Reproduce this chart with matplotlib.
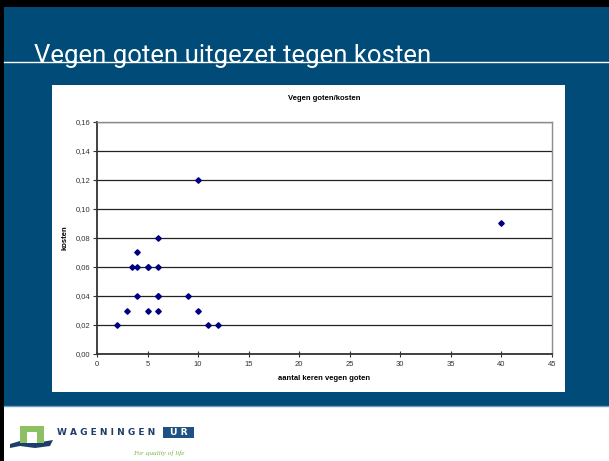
import matplotlib
matplotlib.use("Agg")
import matplotlib.pyplot as plt
from matplotlib.patches import Rectangle, Polygon

# data
keren = [2, 3, 3.5, 4, 4, 4, 5, 5, 5, 6, 6, 6, 6, 6, 9, 10, 10, 11, 12, 40]
kosten = [0.02, 0.03, 0.06, 0.06, 0.07, 0.04, 0.06, 0.06, 0.03, 0.08,
          0.06, 0.04, 0.04, 0.03, 0.04, 0.12, 0.03, 0.02, 0.02, 0.09]
x_ticks = [0, 5, 10, 15, 20, 25, 30, 35, 40, 45]
y_ticks = [0.00, 0.02, 0.04, 0.06, 0.08, 0.10, 0.12, 0.14, 0.16]

W, H = 609, 461
BLUE = "#004b78"

def box(x0, y0, x1, y1):
    # pixel box (top-left origin) -> figure fraction
    return [x0 / W, 1 - y1 / H, (x1 - x0) / W, (y1 - y0) / H]

fig = plt.figure(figsize=(W / 100, H / 100), dpi=100, facecolor="white")

# slide background drawn in pixel coordinates
bg = fig.add_axes([0, 0, 1, 1], zorder=0)
bg.set_xlim(0, W)
bg.set_ylim(H, 0)
bg.axis("off")
bg.add_patch(Rectangle((4, 7), W - 4, 399, color=BLUE, lw=0))
bg.plot([4, W], [405.5, 405.5], color="#6f9cc0", lw=1)
bg.add_patch(Rectangle((0, 0), W, 7, color="black", lw=0))
bg.add_patch(Rectangle((0, 0), 4, H, color="black", lw=0))
bg.plot([4, W], [62.5, 62.5], color="white", lw=1)
bg.text(34, 62.5, "Vegen goten uitgezet tegen kosten", color="white",
        fontsize=18.5, family=["Roboto", "Liberation Sans"],
        va="baseline", ha="left")
bg.add_patch(Rectangle((52, 85), 513, 307, color="white", lw=0))

# logo
bg.add_patch(Polygon([(10, 444), (20, 441), (35, 443), (53, 440), (50, 446),
                      (35, 448), (20, 446), (10, 448)], color="#1d3d6b", lw=0))
bg.add_patch(Rectangle((20, 426), 24, 17, color="#8cc063", lw=0))
bg.add_patch(Rectangle((27, 432), 10, 11, color="white", lw=0))
bg.text(57, 432, "W A G E N I N G E N", color="#1d3d6b", fontsize=6.5,
        fontweight="bold", va="center", ha="left", family="DejaVu Sans")
bg.add_patch(Rectangle((163, 426.5), 31, 11, color="#1f5284", lw=0))
bg.text(178.5, 432, "U R", color="white", fontsize=6.6, fontweight="bold",
        va="center", ha="center", family="DejaVu Sans")
bg.text(185, 453, "For quality of life", color="#7ab648", fontsize=5.2,
        style="italic", va="center", ha="right", family="Liberation Serif")

# chart
ax = fig.add_axes(box(97, 122, 552, 354), zorder=1)
ax.set_facecolor("white")
ax.plot(keren, kosten, linestyle="none", marker="D", ms=2.8,
        color="#000080", zorder=3)
ax.set_xlim(0, 45)
ax.set_ylim(0, 0.16)
ax.set_xticks(x_ticks)
ax.set_yticks(y_ticks)
ax.set_xticklabels([str(t) for t in x_ticks])
ax.set_yticklabels([("%.2f" % t).replace(".", ",") for t in y_ticks])
ax.tick_params(axis="x", direction="inout", length=4, width=0.8,
               labelsize=5.5, pad=3, colors="#333333")
ax.tick_params(axis="y", direction="out", length=3, width=0.8,
               labelsize=5.5, pad=2, colors="#333333")
for lab in ax.get_xticklabels() + ax.get_yticklabels():
    lab.set_family("Liberation Sans")
ax.grid(axis="y", color="#222222", lw=0.9)
ax.set_axisbelow(True)
for s in ["left", "bottom"]:
    ax.spines[s].set_color("#333333")
    ax.spines[s].set_linewidth(1.3)
for s in ["top", "right"]:
    ax.spines[s].set_color("#8c8c8c")
    ax.spines[s].set_linewidth(1.0)

ax.set_title("Vegen goten/kosten", fontsize=5.5, fontweight="bold",
             family="Liberation Sans", pad=16)
ax.set_xlabel("aantal keren vegen goten", fontsize=5.5, fontweight="bold",
              family="Liberation Sans", labelpad=5)
ax.set_ylabel("kosten", fontsize=5.5, fontweight="bold",
              family="Liberation Sans", labelpad=5)

fig.savefig("out.png", dpi=100, facecolor="white")
